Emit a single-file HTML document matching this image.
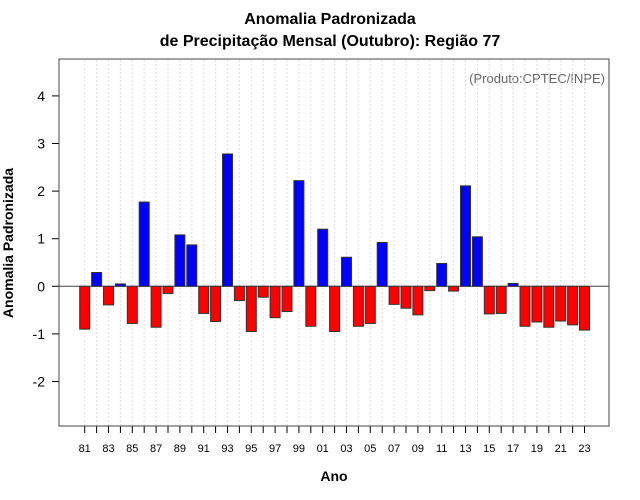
<!DOCTYPE html>
<html><head><meta charset="utf-8"><style>
body{margin:0;background:#fff;}
svg{display:block;font-family:"Liberation Sans",sans-serif;}
</style></head><body>
<svg id="chart" width="640" height="500">
<text x="330" y="24" text-anchor="middle" font-size="16" font-weight="bold">Anomalia Padronizada</text>
<text x="330" y="46" text-anchor="middle" font-size="16" font-weight="bold">de Precipitação Mensal (Outubro): Região 77</text>
<text x="605" y="83" text-anchor="end" font-size="13" fill="#666">(Produto:CPTEC/INPE)</text>
<text x="334" y="481" text-anchor="middle" font-size="14" font-weight="bold">Ano</text>
<text transform="translate(13,243) rotate(-90)" text-anchor="middle" font-size="14" font-weight="bold">Anomalia Padronizada</text>
<g id="grid"></g><g id="bars"></g><g id="axes"></g>
<rect x="59" y="59" width="550" height="367" fill="none" stroke="#444"/>
</svg>
<script>
const years = [1981,1982,1983,1984,1985,1986,1987,1988,1989,1990,1991,1992,1993,1994,1995,1996,1997,1998,1999,2000,2001,2002,2003,2004,2005,2006,2007,2008,2009,2010,2011,2012,2013,2014,2015,2016,2017,2018,2019,2020,2021,2022,2023];
const anomalies = [-0.90,0.29,-0.39,0.05,-0.78,1.77,-0.86,-0.15,1.08,0.87,-0.57,-0.74,2.78,-0.30,-0.95,-0.23,-0.66,-0.53,2.22,-0.84,1.20,-0.95,0.61,-0.84,-0.78,0.92,-0.38,-0.46,-0.60,-0.09,0.48,-0.10,2.11,1.04,-0.58,-0.57,0.06,-0.84,-0.75,-0.86,-0.73,-0.81,-0.92];
const yTicks = [-2,-1,0,1,2,3,4];
const NS="http://www.w3.org/2000/svg";
const xs = y => 84.7 + (y-1981)*11.9;
const ys = v => 286.3 - v*47.6;
function mk(tag,attrs,parent){const e=document.createElementNS(NS,tag);for(const k in attrs)e.setAttribute(k,attrs[k]);parent.appendChild(e);return e;}
const grid=document.getElementById('grid'),bars=document.getElementById('bars'),axes=document.getElementById('axes');
years.forEach(y=>{
  const g=mk('line',{x1:xs(y),x2:xs(y),y1:60,y2:425,stroke:'#ddd','stroke-dasharray':'2,2'},grid);
  
  
  const t=mk('line',{x1:xs(y),x2:xs(y),y1:426,y2:433,stroke:'#000'},axes);
  
  
  if(y%2===1){
    const l=mk('text',{x:xs(y),y:452,'text-anchor':'middle','font-size':'11'},axes);
    l.textContent=String(y%100).padStart(2,'0');
    
    
  }
});
mk('line',{x1:59,x2:609,y1:ys(0),y2:ys(0),stroke:'#444'},grid);
yTicks.forEach(v=>{
  const t=mk('line',{x1:52,x2:59,y1:ys(v),y2:ys(v),stroke:'#000'},axes);
  
  
  const l=mk('text',{x:45,y:ys(v)+5,'text-anchor':'end','font-size':'14'},axes);
  l.textContent=v;
  
  
});
anomalies.forEach((v,i)=>{
  const x=xs(years[i])-5, y0=ys(0), y1=ys(v);
  const r=mk('rect',{x:x,y:Math.min(y0,y1),width:10,height:Math.abs(y1-y0),fill:v>=0?'#0000ff':'#ff0000',stroke:'#333','stroke-width':1},bars);
  
  
});
</script>
</body></html>
